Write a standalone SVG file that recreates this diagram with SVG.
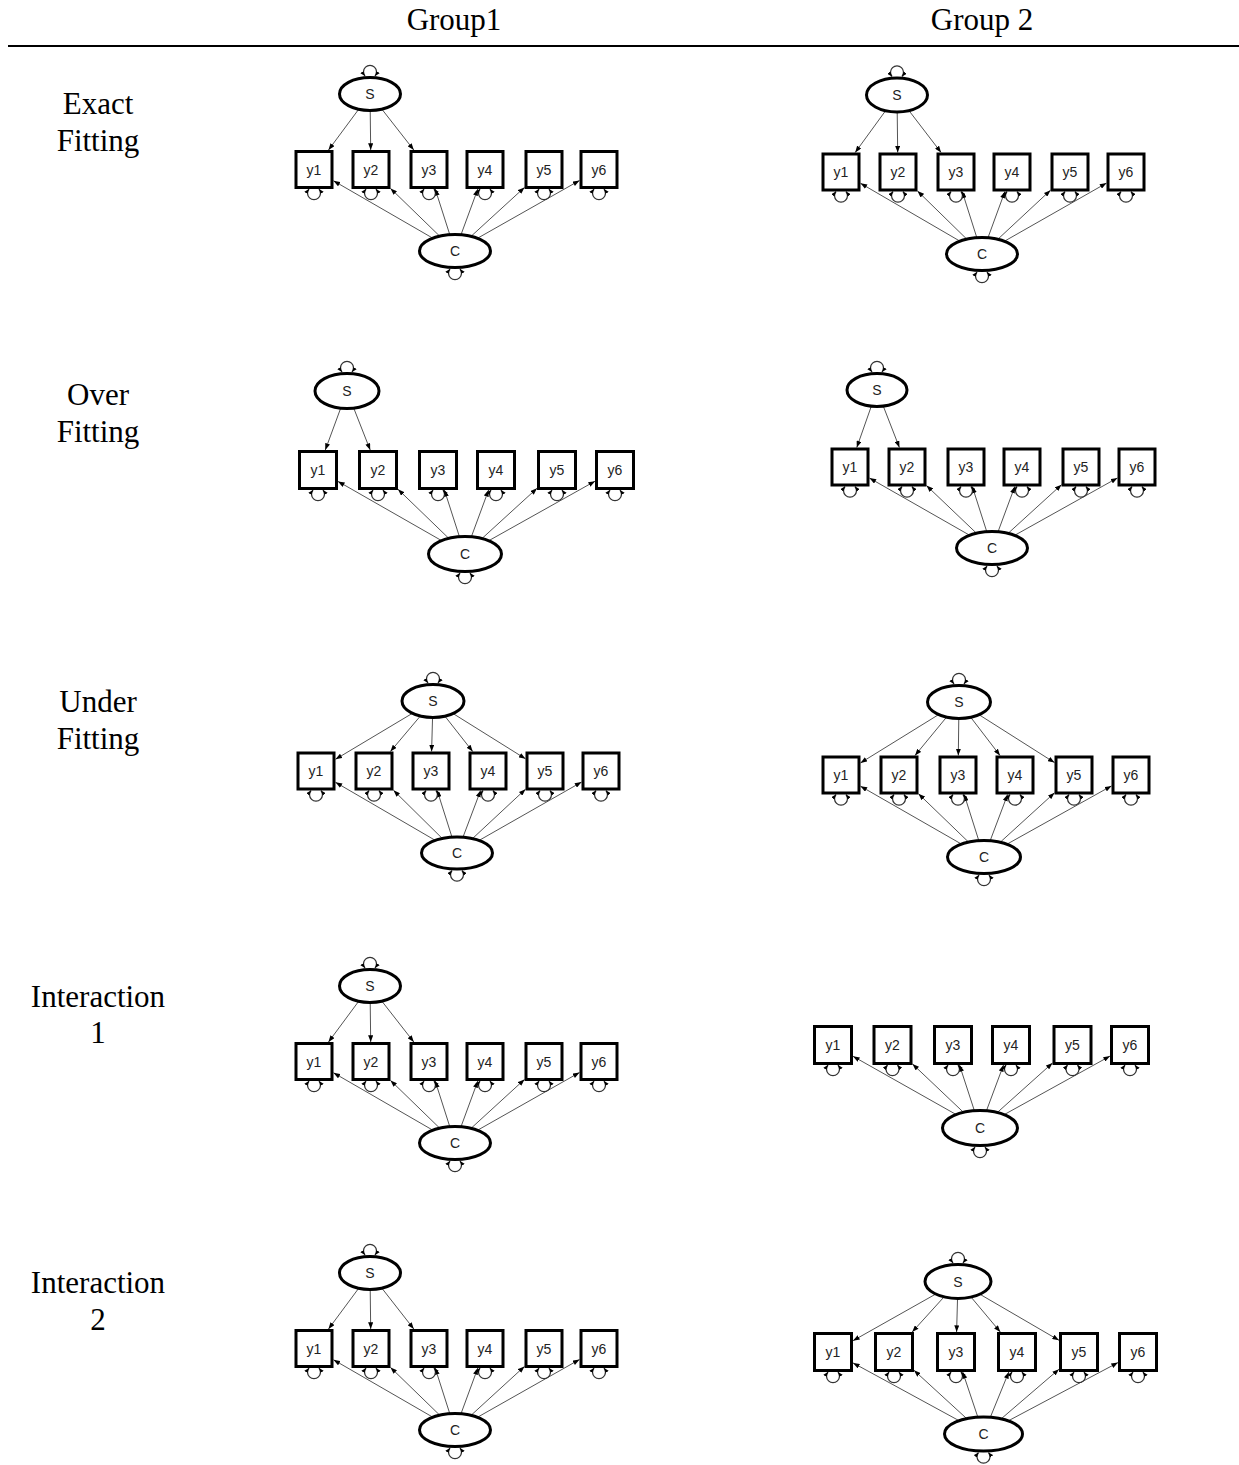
<svg xmlns="http://www.w3.org/2000/svg" xmlns:xlink="http://www.w3.org/1999/xlink" width="1239" height="1465" viewBox="0 0 1239 1465">
<defs>
<style>
.box{fill:#fff;stroke:#000;stroke-width:3}
.lat{fill:#fff;stroke:#000;stroke-width:3}
.edge{stroke:#555;stroke-width:1;fill:none;marker-end:url(#ah)}
.loop{stroke:#333;stroke-width:1.3;fill:none;marker-start:url(#lh);marker-end:url(#lh)}
.nl{font-family:"Liberation Sans",Arial,sans-serif;font-size:14px;fill:#222;text-anchor:middle}
.hd{font-family:"Liberation Serif","Times New Roman",serif;font-size:31px;fill:#000;text-anchor:middle}
</style>
<marker id="ah" viewBox="0 0 8 6" refX="8" refY="3" markerWidth="7" markerHeight="5" orient="auto-start-reverse" markerUnits="userSpaceOnUse"><path d="M0,0 L8,3 L0,6 z" fill="#000"/></marker>
<marker id="lh" viewBox="0 0 8 6" refX="8" refY="3" markerWidth="5" markerHeight="4" orient="auto-start-reverse" markerUnits="userSpaceOnUse"><path d="M0,0 L8,3 L0,6 z" fill="#000"/></marker>
<path id="ld" class="loop" d="M -5,0 A 6.5 6.5 0 1 0 5,0"/>
<path id="lu" class="loop" d="M -5,0 A 6.5 6.5 0 1 1 5,0"/>
</defs>
<rect width="1239" height="1465" fill="#fff"/>

<g id="header">
<text class="hd" x="454" y="30">Group1</text>
<text class="hd" x="982" y="30">Group 2</text>
<line x1="8" y1="46" x2="1239" y2="46" stroke="#000" stroke-width="2"/>
</g>
<g id="row-labels">
<text class="hd" x="98" y="114">Exact</text>
<text class="hd" x="98" y="151">Fitting</text>
<text class="hd" x="98" y="405">Over</text>
<text class="hd" x="98" y="442">Fitting</text>
<text class="hd" x="98" y="712">Under</text>
<text class="hd" x="98" y="749">Fitting</text>
<text class="hd" x="98" y="1007">Interaction</text>
<text class="hd" x="98" y="1043">1</text>
<text class="hd" x="98" y="1293">Interaction</text>
<text class="hd" x="98" y="1330">2</text>
</g>

<!-- Panel 1: Exact, Group1 -->
<g id="p1">
<g id="p1-connectors">
<line class="edge" x1="455" y1="251" x2="333.5" y2="180.8"/>
<line class="edge" x1="455" y1="251" x2="390.5" y2="188.4"/>
<line class="edge" x1="455" y1="251" x2="435.2" y2="189"/>
<line class="edge" x1="455" y1="251" x2="477.8" y2="189"/>
<line class="edge" x1="455" y1="251" x2="524.5" y2="187.4"/>
<line class="edge" x1="455" y1="251" x2="579.5" y2="180.5"/>
<line class="edge" x1="370" y1="94" x2="328.5" y2="150"/>
<line class="edge" x1="370" y1="94" x2="370.7" y2="150"/>
<line class="edge" x1="370" y1="94" x2="413.8" y2="150"/>
<use href="#ld" x="314" y="189"/><use href="#ld" x="371" y="189"/><use href="#ld" x="429" y="189"/>
<use href="#ld" x="485" y="189"/><use href="#ld" x="544" y="189"/><use href="#ld" x="599" y="189"/>
<use href="#lu" x="370" y="76"/><use href="#ld" x="455" y="269"/>
</g>
<g id="p1-S"><ellipse class="lat" cx="370" cy="94" rx="30.5" ry="16.5"/><text class="nl" x="370" y="99">S</text></g>
<g id="p1-C"><ellipse class="lat" cx="455" cy="251" rx="35.5" ry="16.5"/><text class="nl" x="455" y="256">C</text></g>
<g id="p1-y1"><rect class="box" x="296" y="151.5" width="36" height="36"/><text class="nl" x="314" y="174.5">y1</text></g>
<g id="p1-y2"><rect class="box" x="353" y="151.5" width="36" height="36"/><text class="nl" x="371" y="174.5">y2</text></g>
<g id="p1-y3"><rect class="box" x="411" y="151.5" width="36" height="36"/><text class="nl" x="429" y="174.5">y3</text></g>
<g id="p1-y4"><rect class="box" x="467" y="151.5" width="36" height="36"/><text class="nl" x="485" y="174.5">y4</text></g>
<g id="p1-y5"><rect class="box" x="526" y="151.5" width="36" height="36"/><text class="nl" x="544" y="174.5">y5</text></g>
<g id="p1-y6"><rect class="box" x="581" y="151.5" width="36" height="36"/><text class="nl" x="599" y="174.5">y6</text></g>
</g>

<!-- Panel 2: Exact, Group 2 -->
<g id="p2">
<g id="p2-connectors">
<line class="edge" x1="982" y1="254" x2="860.5" y2="183.3"/>
<line class="edge" x1="982" y1="254" x2="917.5" y2="191"/>
<line class="edge" x1="982" y1="254" x2="962.2" y2="191.5"/>
<line class="edge" x1="982" y1="254" x2="1004.9" y2="191.5"/>
<line class="edge" x1="982" y1="254" x2="1050.5" y2="190.2"/>
<line class="edge" x1="982" y1="254" x2="1106.5" y2="183.1"/>
<line class="edge" x1="897" y1="95" x2="855.2" y2="152.5"/>
<line class="edge" x1="897" y1="95" x2="897.7" y2="152.5"/>
<line class="edge" x1="897" y1="95" x2="941.1" y2="152.5"/>
<use href="#ld" x="841" y="191.5"/><use href="#ld" x="898" y="191.5"/><use href="#ld" x="956" y="191.5"/>
<use href="#ld" x="1012" y="191.5"/><use href="#ld" x="1070" y="191.5"/><use href="#ld" x="1126" y="191.5"/>
<use href="#lu" x="897" y="76.5"/><use href="#ld" x="982" y="272"/>
</g>
<g id="p2-S"><ellipse class="lat" cx="897" cy="95" rx="30.5" ry="17"/><text class="nl" x="897" y="100">S</text></g>
<g id="p2-C"><ellipse class="lat" cx="982" cy="254" rx="35.5" ry="16.5"/><text class="nl" x="982" y="259">C</text></g>
<g id="p2-y1"><rect class="box" x="823" y="154" width="36" height="36"/><text class="nl" x="841" y="177">y1</text></g>
<g id="p2-y2"><rect class="box" x="880" y="154" width="36" height="36"/><text class="nl" x="898" y="177">y2</text></g>
<g id="p2-y3"><rect class="box" x="938" y="154" width="36" height="36"/><text class="nl" x="956" y="177">y3</text></g>
<g id="p2-y4"><rect class="box" x="994" y="154" width="36" height="36"/><text class="nl" x="1012" y="177">y4</text></g>
<g id="p2-y5"><rect class="box" x="1052" y="154" width="36" height="36"/><text class="nl" x="1070" y="177">y5</text></g>
<g id="p2-y6"><rect class="box" x="1108" y="154" width="36" height="36"/><text class="nl" x="1126" y="177">y6</text></g>
</g>

<!-- Panel 3: Over, Group1 -->
<g id="p3">
<g id="p3-connectors">
<line class="edge" x1="465" y1="554" x2="338" y2="481.4"/>
<line class="edge" x1="465" y1="554" x2="398" y2="489.3"/>
<line class="edge" x1="465" y1="554" x2="444.4" y2="490"/>
<line class="edge" x1="465" y1="554" x2="488.6" y2="490"/>
<line class="edge" x1="465" y1="554" x2="537" y2="488.3"/>
<line class="edge" x1="465" y1="554" x2="595" y2="481.2"/>
<line class="edge" x1="347" y1="391" x2="325.3" y2="450"/>
<line class="edge" x1="347" y1="391" x2="370.2" y2="450"/>
<use href="#ld" x="318" y="490"/><use href="#ld" x="378" y="490"/><use href="#ld" x="438" y="490"/>
<use href="#ld" x="496" y="490"/><use href="#ld" x="557" y="490"/><use href="#ld" x="615" y="490"/>
<use href="#lu" x="347" y="372"/><use href="#ld" x="465" y="573"/>
</g>
<g id="p3-S"><ellipse class="lat" cx="347" cy="391" rx="32" ry="17.5"/><text class="nl" x="347" y="396">S</text></g>
<g id="p3-C"><ellipse class="lat" cx="465" cy="554" rx="36.5" ry="17.5"/><text class="nl" x="465" y="559">C</text></g>
<g id="p3-y1"><rect class="box" x="299.5" y="451.5" width="37" height="37"/><text class="nl" x="318" y="475">y1</text></g>
<g id="p3-y2"><rect class="box" x="359.5" y="451.5" width="37" height="37"/><text class="nl" x="378" y="475">y2</text></g>
<g id="p3-y3"><rect class="box" x="419.5" y="451.5" width="37" height="37"/><text class="nl" x="438" y="475">y3</text></g>
<g id="p3-y4"><rect class="box" x="477.5" y="451.5" width="37" height="37"/><text class="nl" x="496" y="475">y4</text></g>
<g id="p3-y5"><rect class="box" x="538.5" y="451.5" width="37" height="37"/><text class="nl" x="557" y="475">y5</text></g>
<g id="p3-y6"><rect class="box" x="596.5" y="451.5" width="37" height="37"/><text class="nl" x="615" y="475">y6</text></g>
</g>

<!-- Panel 4: Over, Group 2 -->
<g id="p4">
<g id="p4-connectors">
<line class="edge" x1="992" y1="548" x2="869.5" y2="478.1"/>
<line class="edge" x1="992" y1="548" x2="926.5" y2="485.6"/>
<line class="edge" x1="992" y1="548" x2="972.3" y2="486.5"/>
<line class="edge" x1="992" y1="548" x2="1014.8" y2="486.5"/>
<line class="edge" x1="992" y1="548" x2="1061.5" y2="484.7"/>
<line class="edge" x1="992" y1="548" x2="1117.5" y2="477.9"/>
<line class="edge" x1="877" y1="390" x2="856.8" y2="447.5"/>
<line class="edge" x1="877" y1="390" x2="899.4" y2="447.5"/>
<use href="#ld" x="850" y="486.5"/><use href="#ld" x="907" y="486.5"/><use href="#ld" x="966" y="486.5"/>
<use href="#ld" x="1022" y="486.5"/><use href="#ld" x="1081" y="486.5"/><use href="#ld" x="1137" y="486.5"/>
<use href="#lu" x="877" y="372"/><use href="#ld" x="992" y="566"/>
</g>
<g id="p4-S"><ellipse class="lat" cx="877" cy="390" rx="30" ry="16.5"/><text class="nl" x="877" y="395">S</text></g>
<g id="p4-C"><ellipse class="lat" cx="992" cy="548" rx="35.5" ry="16.5"/><text class="nl" x="992" y="553">C</text></g>
<g id="p4-y1"><rect class="box" x="832" y="449" width="36" height="36"/><text class="nl" x="850" y="472">y1</text></g>
<g id="p4-y2"><rect class="box" x="889" y="449" width="36" height="36"/><text class="nl" x="907" y="472">y2</text></g>
<g id="p4-y3"><rect class="box" x="948" y="449" width="36" height="36"/><text class="nl" x="966" y="472">y3</text></g>
<g id="p4-y4"><rect class="box" x="1004" y="449" width="36" height="36"/><text class="nl" x="1022" y="472">y4</text></g>
<g id="p4-y5"><rect class="box" x="1063" y="449" width="36" height="36"/><text class="nl" x="1081" y="472">y5</text></g>
<g id="p4-y6"><rect class="box" x="1119" y="449" width="36" height="36"/><text class="nl" x="1137" y="472">y6</text></g>
</g>

<!-- Panel 5: Under, Group1 -->
<g id="p5">
<g id="p5-connectors">
<line class="edge" x1="457" y1="853" x2="335.5" y2="782.3"/>
<line class="edge" x1="457" y1="853" x2="393.5" y2="790.3"/>
<line class="edge" x1="457" y1="853" x2="437.2" y2="790.5"/>
<line class="edge" x1="457" y1="853" x2="480.6" y2="790.5"/>
<line class="edge" x1="457" y1="853" x2="525.5" y2="789.2"/>
<line class="edge" x1="457" y1="853" x2="581.5" y2="782.1"/>
<line class="edge" x1="433" y1="701" x2="335.5" y2="759.3"/>
<line class="edge" x1="433" y1="701" x2="390.4" y2="751.5"/>
<line class="edge" x1="433" y1="701" x2="431.6" y2="751.5"/>
<line class="edge" x1="433" y1="701" x2="472.7" y2="751.5"/>
<line class="edge" x1="433" y1="701" x2="525.5" y2="758.8"/>
<use href="#ld" x="316" y="790.5"/><use href="#ld" x="374" y="790.5"/><use href="#ld" x="431" y="790.5"/>
<use href="#ld" x="488" y="790.5"/><use href="#ld" x="545" y="790.5"/><use href="#ld" x="601" y="790.5"/>
<use href="#lu" x="433" y="683"/><use href="#ld" x="457" y="870.5"/>
</g>
<g id="p5-S"><ellipse class="lat" cx="433" cy="701" rx="31" ry="16.5"/><text class="nl" x="433" y="706">S</text></g>
<g id="p5-C"><ellipse class="lat" cx="457" cy="853" rx="35.5" ry="16"/><text class="nl" x="457" y="858">C</text></g>
<g id="p5-y1"><rect class="box" x="298" y="753" width="36" height="36"/><text class="nl" x="316" y="776">y1</text></g>
<g id="p5-y2"><rect class="box" x="356" y="753" width="36" height="36"/><text class="nl" x="374" y="776">y2</text></g>
<g id="p5-y3"><rect class="box" x="413" y="753" width="36" height="36"/><text class="nl" x="431" y="776">y3</text></g>
<g id="p5-y4"><rect class="box" x="470" y="753" width="36" height="36"/><text class="nl" x="488" y="776">y4</text></g>
<g id="p5-y5"><rect class="box" x="527" y="753" width="36" height="36"/><text class="nl" x="545" y="776">y5</text></g>
<g id="p5-y6"><rect class="box" x="583" y="753" width="36" height="36"/><text class="nl" x="601" y="776">y6</text></g>
</g>

<!-- Panel 6: Under, Group 2 -->
<g id="p6">
<g id="p6-connectors">
<line class="edge" x1="984" y1="857" x2="860.5" y2="786.2"/>
<line class="edge" x1="984" y1="857" x2="918.5" y2="793.8"/>
<line class="edge" x1="984" y1="857" x2="964.2" y2="794.5"/>
<line class="edge" x1="984" y1="857" x2="1007.6" y2="794.5"/>
<line class="edge" x1="984" y1="857" x2="1054.5" y2="792.8"/>
<line class="edge" x1="984" y1="857" x2="1111.5" y2="785.9"/>
<line class="edge" x1="959" y1="702" x2="860.5" y2="762.9"/>
<line class="edge" x1="959" y1="702" x2="915" y2="755.5"/>
<line class="edge" x1="959" y1="702" x2="958.3" y2="755.5"/>
<line class="edge" x1="959" y1="702" x2="1000" y2="755.5"/>
<line class="edge" x1="959" y1="702" x2="1054.5" y2="762.6"/>
<use href="#ld" x="841" y="794.5"/><use href="#ld" x="899" y="794.5"/><use href="#ld" x="958" y="794.5"/>
<use href="#ld" x="1015" y="794.5"/><use href="#ld" x="1074" y="794.5"/><use href="#ld" x="1131" y="794.5"/>
<use href="#lu" x="959" y="684"/><use href="#ld" x="984" y="875"/>
</g>
<g id="p6-S"><ellipse class="lat" cx="959" cy="702" rx="31.5" ry="16.5"/><text class="nl" x="959" y="707">S</text></g>
<g id="p6-C"><ellipse class="lat" cx="984" cy="857" rx="36.5" ry="16.5"/><text class="nl" x="984" y="862">C</text></g>
<g id="p6-y1"><rect class="box" x="823" y="757" width="36" height="36"/><text class="nl" x="841" y="780">y1</text></g>
<g id="p6-y2"><rect class="box" x="881" y="757" width="36" height="36"/><text class="nl" x="899" y="780">y2</text></g>
<g id="p6-y3"><rect class="box" x="940" y="757" width="36" height="36"/><text class="nl" x="958" y="780">y3</text></g>
<g id="p6-y4"><rect class="box" x="997" y="757" width="36" height="36"/><text class="nl" x="1015" y="780">y4</text></g>
<g id="p6-y5"><rect class="box" x="1056" y="757" width="36" height="36"/><text class="nl" x="1074" y="780">y5</text></g>
<g id="p6-y6"><rect class="box" x="1113" y="757" width="36" height="36"/><text class="nl" x="1131" y="780">y6</text></g>
</g>

<!-- Panel 7: Interaction 1, Group1 -->
<g id="p7" transform="translate(0,892)">
<g id="p7-connectors">
<line class="edge" x1="455" y1="251" x2="333.5" y2="180.8"/>
<line class="edge" x1="455" y1="251" x2="390.5" y2="188.4"/>
<line class="edge" x1="455" y1="251" x2="435.2" y2="189"/>
<line class="edge" x1="455" y1="251" x2="477.8" y2="189"/>
<line class="edge" x1="455" y1="251" x2="524.5" y2="187.4"/>
<line class="edge" x1="455" y1="251" x2="579.5" y2="180.5"/>
<line class="edge" x1="370" y1="94" x2="328.5" y2="150"/>
<line class="edge" x1="370" y1="94" x2="370.7" y2="150"/>
<line class="edge" x1="370" y1="94" x2="413.8" y2="150"/>
<use href="#ld" x="314" y="189"/><use href="#ld" x="371" y="189"/><use href="#ld" x="429" y="189"/>
<use href="#ld" x="485" y="189"/><use href="#ld" x="544" y="189"/><use href="#ld" x="599" y="189"/>
<use href="#lu" x="370" y="76"/><use href="#ld" x="455" y="269"/>
</g>
<g id="p7-S"><ellipse class="lat" cx="370" cy="94" rx="30.5" ry="16.5"/><text class="nl" x="370" y="99">S</text></g>
<g id="p7-C"><ellipse class="lat" cx="455" cy="251" rx="35.5" ry="16.5"/><text class="nl" x="455" y="256">C</text></g>
<g id="p7-y1"><rect class="box" x="296" y="151.5" width="36" height="36"/><text class="nl" x="314" y="174.5">y1</text></g>
<g id="p7-y2"><rect class="box" x="353" y="151.5" width="36" height="36"/><text class="nl" x="371" y="174.5">y2</text></g>
<g id="p7-y3"><rect class="box" x="411" y="151.5" width="36" height="36"/><text class="nl" x="429" y="174.5">y3</text></g>
<g id="p7-y4"><rect class="box" x="467" y="151.5" width="36" height="36"/><text class="nl" x="485" y="174.5">y4</text></g>
<g id="p7-y5"><rect class="box" x="526" y="151.5" width="36" height="36"/><text class="nl" x="544" y="174.5">y5</text></g>
<g id="p7-y6"><rect class="box" x="581" y="151.5" width="36" height="36"/><text class="nl" x="599" y="174.5">y6</text></g>
</g>

<!-- Panel 8: Interaction 1, Group 2 -->
<g id="p8">
<g id="p8-connectors">
<line class="edge" x1="980" y1="1128" x2="853" y2="1056.3"/>
<line class="edge" x1="980" y1="1128" x2="912.5" y2="1064"/>
<line class="edge" x1="980" y1="1128" x2="959.5" y2="1065"/>
<line class="edge" x1="980" y1="1128" x2="1003.5" y2="1065"/>
<line class="edge" x1="980" y1="1128" x2="1052.5" y2="1063"/>
<line class="edge" x1="980" y1="1128" x2="1110" y2="1056.1"/>
<use href="#ld" x="833" y="1065"/><use href="#ld" x="892.5" y="1065"/><use href="#ld" x="953" y="1065"/>
<use href="#ld" x="1011" y="1065"/><use href="#ld" x="1072.5" y="1065"/><use href="#ld" x="1130" y="1065"/>
<use href="#ld" x="980" y="1147"/>
</g>
<g id="p8-C"><ellipse class="lat" cx="980" cy="1128" rx="37.5" ry="17.5"/><text class="nl" x="980" y="1133">C</text></g>
<g id="p8-y1"><rect class="box" x="814.5" y="1026.5" width="37" height="37"/><text class="nl" x="833" y="1050">y1</text></g>
<g id="p8-y2"><rect class="box" x="874" y="1026.5" width="37" height="37"/><text class="nl" x="892.5" y="1050">y2</text></g>
<g id="p8-y3"><rect class="box" x="934.5" y="1026.5" width="37" height="37"/><text class="nl" x="953" y="1050">y3</text></g>
<g id="p8-y4"><rect class="box" x="992.5" y="1026.5" width="37" height="37"/><text class="nl" x="1011" y="1050">y4</text></g>
<g id="p8-y5"><rect class="box" x="1054" y="1026.5" width="37" height="37"/><text class="nl" x="1072.5" y="1050">y5</text></g>
<g id="p8-y6"><rect class="box" x="1111.5" y="1026.5" width="37" height="37"/><text class="nl" x="1130" y="1050">y6</text></g>
</g>

<!-- Panel 9: Interaction 2, Group1 -->
<g id="p9" transform="translate(0,1179)">
<g id="p9-connectors">
<line class="edge" x1="455" y1="251" x2="333.5" y2="180.8"/>
<line class="edge" x1="455" y1="251" x2="390.5" y2="188.4"/>
<line class="edge" x1="455" y1="251" x2="435.2" y2="189"/>
<line class="edge" x1="455" y1="251" x2="477.8" y2="189"/>
<line class="edge" x1="455" y1="251" x2="524.5" y2="187.4"/>
<line class="edge" x1="455" y1="251" x2="579.5" y2="180.5"/>
<line class="edge" x1="370" y1="94" x2="328.5" y2="150"/>
<line class="edge" x1="370" y1="94" x2="370.7" y2="150"/>
<line class="edge" x1="370" y1="94" x2="413.8" y2="150"/>
<use href="#ld" x="314" y="189"/><use href="#ld" x="371" y="189"/><use href="#ld" x="429" y="189"/>
<use href="#ld" x="485" y="189"/><use href="#ld" x="544" y="189"/><use href="#ld" x="599" y="189"/>
<use href="#lu" x="370" y="76"/><use href="#ld" x="455" y="269"/>
</g>
<g id="p9-S"><ellipse class="lat" cx="370" cy="94" rx="30.5" ry="16.5"/><text class="nl" x="370" y="99">S</text></g>
<g id="p9-C"><ellipse class="lat" cx="455" cy="251" rx="35.5" ry="16.5"/><text class="nl" x="455" y="256">C</text></g>
<g id="p9-y1"><rect class="box" x="296" y="151.5" width="36" height="36"/><text class="nl" x="314" y="174.5">y1</text></g>
<g id="p9-y2"><rect class="box" x="353" y="151.5" width="36" height="36"/><text class="nl" x="371" y="174.5">y2</text></g>
<g id="p9-y3"><rect class="box" x="411" y="151.5" width="36" height="36"/><text class="nl" x="429" y="174.5">y3</text></g>
<g id="p9-y4"><rect class="box" x="467" y="151.5" width="36" height="36"/><text class="nl" x="485" y="174.5">y4</text></g>
<g id="p9-y5"><rect class="box" x="526" y="151.5" width="36" height="36"/><text class="nl" x="544" y="174.5">y5</text></g>
<g id="p9-y6"><rect class="box" x="581" y="151.5" width="36" height="36"/><text class="nl" x="599" y="174.5">y6</text></g>
</g>

<!-- Panel 10: Interaction 2, Group 2 -->
<g id="p10">
<g id="p10-connectors">
<line class="edge" x1="983.5" y1="1434" x2="853" y2="1362.9"/>
<line class="edge" x1="983.5" y1="1434" x2="914" y2="1370.3"/>
<line class="edge" x1="983.5" y1="1434" x2="962.7" y2="1372"/>
<line class="edge" x1="983.5" y1="1434" x2="1008.8" y2="1372"/>
<line class="edge" x1="983.5" y1="1434" x2="1059" y2="1369.2"/>
<line class="edge" x1="983.5" y1="1434" x2="1118" y2="1362.6"/>
<line class="edge" x1="958" y1="1281.5" x2="853" y2="1340.7"/>
<line class="edge" x1="958" y1="1281.5" x2="912.2" y2="1332"/>
<line class="edge" x1="958" y1="1281.5" x2="956.6" y2="1332"/>
<line class="edge" x1="958" y1="1281.5" x2="1000.3" y2="1332"/>
<line class="edge" x1="958" y1="1281.5" x2="1059" y2="1340.3"/>
<use href="#ld" x="833" y="1372"/><use href="#ld" x="894" y="1372"/><use href="#ld" x="956" y="1372"/>
<use href="#ld" x="1017" y="1372"/><use href="#ld" x="1079" y="1372"/><use href="#ld" x="1138" y="1372"/>
<use href="#lu" x="958" y="1263"/><use href="#ld" x="983.5" y="1452.5"/>
</g>
<g id="p10-S"><ellipse class="lat" cx="958" cy="1281.5" rx="33" ry="17"/><text class="nl" x="958" y="1286.5">S</text></g>
<g id="p10-C"><ellipse class="lat" cx="983.5" cy="1434" rx="39" ry="17"/><text class="nl" x="983.5" y="1439">C</text></g>
<g id="p10-y1"><rect class="box" x="814.5" y="1333.5" width="37" height="37"/><text class="nl" x="833" y="1357">y1</text></g>
<g id="p10-y2"><rect class="box" x="875.5" y="1333.5" width="37" height="37"/><text class="nl" x="894" y="1357">y2</text></g>
<g id="p10-y3"><rect class="box" x="937.5" y="1333.5" width="37" height="37"/><text class="nl" x="956" y="1357">y3</text></g>
<g id="p10-y4"><rect class="box" x="998.5" y="1333.5" width="37" height="37"/><text class="nl" x="1017" y="1357">y4</text></g>
<g id="p10-y5"><rect class="box" x="1060.5" y="1333.5" width="37" height="37"/><text class="nl" x="1079" y="1357">y5</text></g>
<g id="p10-y6"><rect class="box" x="1119.5" y="1333.5" width="37" height="37"/><text class="nl" x="1138" y="1357">y6</text></g>
</g>
</svg>
